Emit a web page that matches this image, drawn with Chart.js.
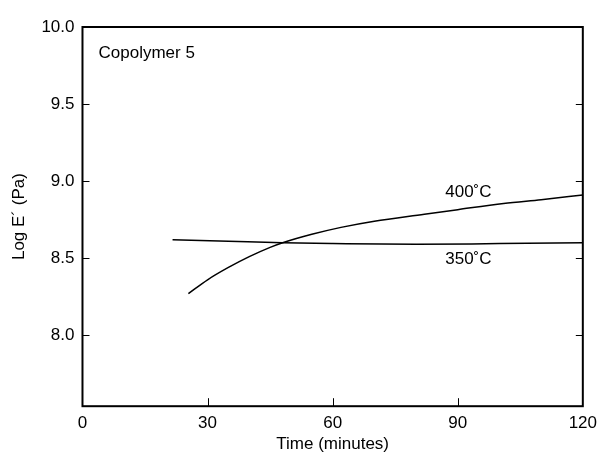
<!DOCTYPE html>
<html>
<head>
<meta charset="utf-8">
<script src="https://cdn.jsdelivr.net/npm/chart.js@4.4.1/dist/chart.umd.min.js"></script>
<style>
  html, body { margin:0; padding:0; background:#fff; }
  #wrap { width:604px; height:458px; }
</style>
</head>
<body>
<div id="wrap"><canvas id="chart" width="604" height="458"></canvas></div>
<script>
// Data
const time400 = [25.4, 30, 35, 40, 45, 48, 55, 62, 70, 82, 90, 101, 110, 120];
const logE400 = [8.27, 8.36, 8.44, 8.51, 8.57, 8.60, 8.655, 8.70, 8.74, 8.785, 8.815, 8.855, 8.88, 8.91];
const time350 = [21.6, 35, 48, 60, 80, 100, 120];
const logE350 = [8.62, 8.61, 8.60, 8.595, 8.59, 8.595, 8.60];
const xTicks = [0, 30, 60, 90, 120];
const yTicks = [8.0, 8.5, 9.0, 9.5, 10.0];

const FONT = "'Liberation Sans', Arial, sans-serif";

const toPts = (xs, ys) => xs.map((x, i) => ({ x: x, y: ys[i] }));

// Inward ticks on all four sides + box + text labels
const frame = {
  id: 'frame',
  afterDraw(chart) {
    const { ctx, chartArea: a, scales: { x, y } } = chart;
    ctx.save();
    ctx.strokeStyle = '#000';
    ctx.lineWidth = 1;
    xTicks.slice(1, -1).forEach(v => {
      const px = Math.round(x.getPixelForValue(v)) + 0.5;
      ctx.beginPath(); ctx.moveTo(px, a.bottom); ctx.lineTo(px, a.bottom - 8); ctx.stroke();
    });
    yTicks.slice(0, -1).forEach(v => {
      const py = Math.round(y.getPixelForValue(v)) + 0.5;
      ctx.beginPath(); ctx.moveTo(a.left, py); ctx.lineTo(a.left + 7, py); ctx.stroke();
      ctx.beginPath(); ctx.moveTo(a.right, py); ctx.lineTo(a.right - 7, py); ctx.stroke();
    });
    ctx.lineWidth = 2;
    ctx.strokeRect(a.left, a.top, a.right - a.left, a.bottom - a.top);

    ctx.fillStyle = '#000';
    ctx.font = '17px ' + FONT;
    ctx.textBaseline = 'middle';
    ctx.textAlign = 'left';
    ctx.fillText('Copolymer 5', a.left + 16, a.top + 26);
    ctx.fillText('400˚C', x.getPixelForValue(87), y.getPixelForValue(8.93));
    ctx.fillText('350˚C', x.getPixelForValue(87), y.getPixelForValue(8.49));
    ctx.restore();
  }
};

new Chart(document.getElementById('chart'), {
  type: 'scatter',
  data: {
    datasets: [
      { label: '400°C', data: toPts(time400, logE400), showLine: true, borderColor: '#000', borderWidth: 1.5, pointRadius: 0, cubicInterpolationMode: 'monotone' },
      { label: '350°C', data: toPts(time350, logE350), showLine: true, borderColor: '#000', borderWidth: 1.5, pointRadius: 0, cubicInterpolationMode: 'monotone' }
    ]
  },
  options: {
    responsive: false,
    animation: false,
    layout: { padding: { left: 9, right: 21, top: 27, bottom: 3 } },
    plugins: { legend: { display: false }, tooltip: { enabled: false } },
    scales: {
      x: {
        type: 'linear', min: 0, max: 120,
        afterBuildTicks: s => { s.ticks = xTicks.map(v => ({ value: v })); },
        grid: { display: false, drawTicks: false },
        border: { display: false },
        ticks: { color: '#000', font: { family: FONT, size: 17 }, padding: 7, maxRotation: 0 },
        title: { display: true, text: 'Time (minutes)', color: '#000', font: { family: FONT, size: 17 }, padding: { top: -6, bottom: 0 } }
      },
      y: {
        min: 7.54, max: 10.0,
        afterBuildTicks: s => { s.ticks = yTicks.map(v => ({ value: v })); },
        grid: { display: false, drawTicks: false },
        border: { display: false },
        ticks: { color: '#000', font: { family: FONT, size: 17 }, padding: 8, callback: v => v.toFixed(1) },
        title: { display: true, text: 'Log E´ (Pa)', color: '#000', font: { family: FONT, size: 17 }, padding: { top: 0, bottom: 4 } }
      }
    }
  },
  plugins: [frame]
});
</script>
</body>
</html>
